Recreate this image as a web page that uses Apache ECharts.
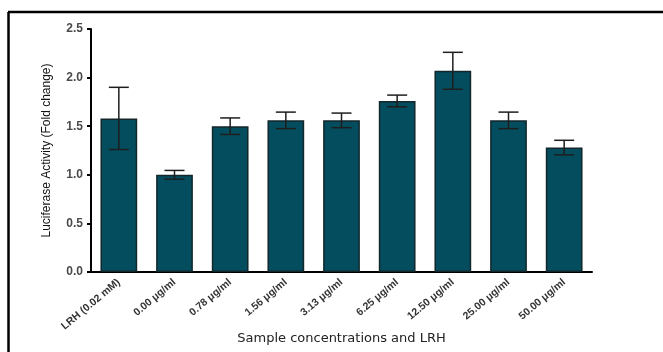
<!DOCTYPE html>
<html><head><meta charset="utf-8">
<script src="https://cdn.jsdelivr.net/npm/echarts@6/dist/echarts.min.js"></script>
<style>html,body{margin:0;padding:0;background:#fff}#c{width:663px;height:352px}</style>
</head><body><div id="c"></div>
<script>
var categories = ['LRH (0.02 mM)', '0.00 μg/ml', '0.78 μg/ml', '1.56 μg/ml', '3.13 μg/ml', '6.25 μg/ml', '12.50 μg/ml', '25.00 μg/ml', '50.00 μg/ml'];
var means = [1.58, 1.00, 1.50, 1.56, 1.56, 1.76, 2.07, 1.56, 1.28];
var errors = [0.32, 0.045, 0.085, 0.085, 0.075, 0.06, 0.19, 0.085, 0.075];
var yTicks = [0, 0.5, 1.0, 1.5, 2.0, 2.5];

var chart = echarts.init(document.getElementById('c'));
var errData = means.map(function (m, i) { return [i, m - errors[i], m + errors[i]]; });
chart.setOption({
  animation: false,
  grid: { left: 91, right: 71, top: 29, bottom: 80, containLabel: false, outerBoundsMode: 'none' },
  graphic: [
    { type: 'line', shape: { x1: 8, y1: 12, x2: 663, y2: 12 }, style: { stroke: '#000', lineWidth: 2.5 } },
    { type: 'line', shape: { x1: 8.5, y1: 12, x2: 8.5, y2: 352 }, style: { stroke: '#000', lineWidth: 2.5 } }
  ],
  xAxis: {
    type: 'category',
    data: categories,
    name: 'Sample concentrations and LRH',
    nameLocation: 'middle',
    nameGap: 60,
    nameMoveOverlap: false,
    nameTextStyle: { fontFamily: 'DejaVu Sans', fontSize: 13, color: '#222' },
    axisLine: { lineStyle: { color: '#000', width: 2 } },
    axisTick: { show: false },
    axisLabel: { rotate: 40, interval: 0, margin: 9, fontFamily: 'Liberation Sans', fontSize: 10.5, fontWeight: 'bold', color: '#333' }
  },
  yAxis: {
    type: 'value',
    min: 0, max: 2.5, interval: 0.5,
    name: 'Luciferase Activity (Fold change)',
    nameLocation: 'middle',
    nameRotate: 90,
    nameGap: 38,
    nameMoveOverlap: false,
    nameTextStyle: { fontFamily: 'Liberation Sans', fontSize: 12, color: '#111' },
    splitLine: { show: false },
    axisLine: { show: true, lineStyle: { color: '#000', width: 2 } },
    axisTick: { show: true, length: 4, lineStyle: { color: '#000', width: 2 } },
    axisLabel: { margin: 8, fontFamily: 'Liberation Sans', fontSize: 12, fontWeight: 'bold', color: '#4a4a4a',
      formatter: function (v) { return yTicks.indexOf(v) >= 0 ? v.toFixed(1) : ''; } }
  },
  series: [
    {
      type: 'bar',
      data: means,
      barCategoryGap: '34%',
      itemStyle: { color: '#044d5e', borderColor: '#12262b', borderWidth: 1.5 }
    },
    {
      type: 'custom',
      data: errData,
      z: 10,
      renderItem: function (params, api) {
        var x = api.value(0);
        var lo = api.coord([x, api.value(1)]);
        var hi = api.coord([x, api.value(2)]);
        var hw = 10;
        var st = { stroke: '#1e1e1e', lineWidth: 1.5 };
        return {
          type: 'group',
          children: [
            { type: 'line', shape: { x1: lo[0], y1: lo[1], x2: hi[0], y2: hi[1] }, style: st },
            { type: 'line', shape: { x1: hi[0] - hw, y1: hi[1], x2: hi[0] + hw, y2: hi[1] }, style: st },
            { type: 'line', shape: { x1: lo[0] - hw, y1: lo[1], x2: lo[0] + hw, y2: lo[1] }, style: st }
          ]
        };
      }
    }
  ]
});
</script></body></html>
